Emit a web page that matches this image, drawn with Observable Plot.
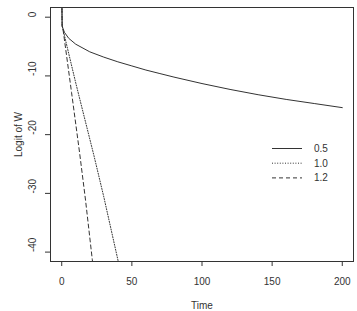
<!DOCTYPE html>
<html>
<head>
<meta charset="utf-8">
<script src="https://cdn.jsdelivr.net/npm/d3@7"></script>
<script src="https://cdn.jsdelivr.net/npm/@observablehq/plot@0.6"></script>
<style>
  html, body { margin: 0; padding: 0; background: #fff; }
  #wrap { position: relative; width: 357px; height: 311px; }
  #legend { position: absolute; left: 0; top: 0; }
</style>
</head>
<body>
<div id="wrap"></div>
<script>
// Series labels and line styles
const seriesNames = ["0.5", "1.0", "1.2"];

// Series 0.5 (solid)
const time05  = [0, 0.3, 1, 2, 5, 10, 20, 30, 40, 50, 60, 70, 80, 100, 120, 140, 160, 180, 200];
const logit05 = [5, -1.5, -2.0, -2.6, -3.6, -4.6, -5.9, -6.8, -7.6, -8.3, -9.0, -9.6, -10.2, -11.3, -12.3, -13.2, -14.0, -14.7, -15.4];

// Series 1.0 (dotted)
const time10  = [0, 0.3, 1, 10, 23, 30, 40.3, 42];
const logit10 = [5, -1.5, -2.2, -11.2, -23.6, -30.6, -41.6, -43.5];

// Series 1.2 (dashed)
const time12  = [0, 0.3, 1, 7, 12.8, 17, 21.8, 23];
const logit12 = [5, -1.5, -2.2, -12.8, -23.2, -31.2, -41.3, -43.5];

// Axis ticks
const xTicks = [0, 50, 100, 150, 200];
const yTicks = [0, -10, -20, -30, -40];

const dashes = ["none", "1,1.6", "4,3"];

const data = [];
[[time05, logit05], [time10, logit10], [time12, logit12]].forEach(([t, v], i) => {
  t.forEach((tt, j) => data.push({series: seriesNames[i], time: tt, logit: v[j]}));
});

const ink = "#333";

const chart = Plot.plot({
  width: 357,
  height: 311,
  marginLeft: 50,
  marginRight: 4,
  marginTop: 7,
  marginBottom: 50,
  style: {fontFamily: "'Liberation Sans', Arial, sans-serif", fontSize: "10px", color: ink, background: "#fff"},
  x: {domain: [-8, 208]},
  y: {domain: [-41.6, 1.65]},
  marks: [
    ...seriesNames.map((s, i) => Plot.line(data.filter(d => d.series === s), {
      x: "time", y: "logit", stroke: ink, strokeWidth: 1, strokeDasharray: dashes[i], clip: true
    })),
    Plot.frame({stroke: ink, strokeWidth: 1}),
    Plot.axisX({ticks: xTicks, tickSize: 5, tickPadding: 11, label: "Time", labelAnchor: "center", labelArrow: "none", labelOffset: 47, stroke: ink}),
    Plot.axisY({ticks: yTicks, tickSize: 5, tickFormat: () => "", label: "Logit of W", labelAnchor: "center", labelArrow: "none", labelOffset: 36, stroke: ink}),
    Plot.text(yTicks, {y: d => d, text: d => String(d), frameAnchor: "left", rotate: -90, dx: -18, fill: ink, fontSize: 10})
  ]
});
const wrap = document.getElementById("wrap");
wrap.appendChild(chart);

// Legend overlay (built from the series names and dash styles)
const lg = d3.select(wrap).append("svg").attr("id", "legend")
  .attr("width", 357).attr("height", 311)
  .style("font-family", "'Liberation Sans', Arial, sans-serif").style("font-size", "10px");
seriesNames.forEach((s, i) => {
  const yy = 148.5 + i * 14.7;
  lg.append("line").attr("x1", 272).attr("x2", 302).attr("y1", yy).attr("y2", yy)
    .attr("stroke", ink).attr("stroke-width", 1).attr("stroke-dasharray", dashes[i]);
  lg.append("text").attr("x", 314).attr("y", yy).attr("dy", "0.35em").attr("fill", ink).text(s);
});
</script>
</body>
</html>
